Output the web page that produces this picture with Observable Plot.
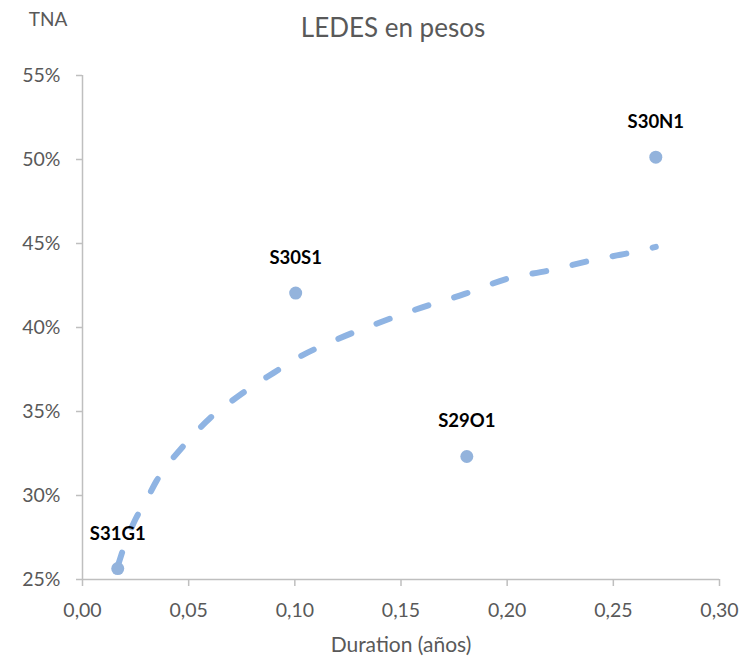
<!DOCTYPE html>
<html>
<head>
<meta charset="utf-8">
<script src="https://cdn.jsdelivr.net/npm/d3@7"></script>
<script src="https://cdn.jsdelivr.net/npm/@observablehq/plot@0.6"></script>
<style>
  html, body { margin: 0; padding: 0; background: #fff; }
  #chart svg { display: block; }
</style>
</head>
<body>
<div id="chart"></div>
<script>
// Bonds (LEDES): name, duration (years), TNA (%)
const names     = ["S31G1", "S30S1", "S29O1", "S30N1"];
const durations = [0.0166, 0.1004, 0.181, 0.270];
const tnas      = [25.65, 42.05, 32.32, 50.14];

// Dashed trend line
const trendX = [0.0166, 0.02, 0.025, 0.03, 0.035, 0.04, 0.05, 0.06, 0.07, 0.08, 0.09, 0.10, 0.12, 0.14, 0.16, 0.18, 0.20, 0.22, 0.24, 0.26, 0.27];
const trendY = [25.8, 27.1, 28.6, 29.7, 30.9, 31.8, 33.3, 34.6, 35.6, 36.5, 37.3, 38.1, 39.3, 40.3, 41.2, 42.0, 42.9, 43.4, 44.0, 44.5, 44.8];

// Axis ticks
const xTicks = [0, 0.05, 0.10, 0.15, 0.20, 0.25, 0.30];
const yTicks = [25, 30, 35, 40, 45, 50, 55];

const titleText = "LEDES en pesos";
const yTitle = "TNA";
const xTitle = "Duration (años)";

const points = names.map((n, i) => ({name: n, x: durations[i], y: tnas[i]}));
const trend = trendX.map((x, i) => ({x, y: trendY[i]}));

const axisGray = "#bfbfbf";
const textGray = "#595959";
const font = "Lato, 'Open Sans', sans-serif";

const chart = Plot.plot({
  width: 742,
  height: 659,
  marginLeft: 82,
  marginRight: 23,
  marginTop: 75,
  marginBottom: 80,
  style: {fontFamily: font, background: "#fff"},
  x: {domain: [0, 0.30]},
  y: {domain: [25, 55]},
  marks: [
    Plot.ruleY([25], {x1: 0, x2: 0.30, stroke: axisGray, strokeWidth: 1.5}),
    Plot.ruleX([0], {y1: 25, y2: 55, stroke: axisGray, strokeWidth: 1.5}),
    Plot.axisX({
      ticks: xTicks,
      tickFormat: d => d.toFixed(2).replace(".", ","),
      tickSize: 7,
      tickPadding: 17,
      stroke: axisGray,
      strokeWidth: 1.5,
      fill: textGray,
      fontSize: 19.5,
      label: null
    }),
    Plot.axisY({
      ticks: yTicks,
      tickFormat: d => d + "%",
      tickSize: 6,
      tickPadding: 16,
      stroke: axisGray,
      strokeWidth: 1.5,
      fill: textGray,
      fontSize: 19.5,
      label: null
    }),
    Plot.line(trend, {
      x: "x", y: "y",
      curve: "monotone-x",
      stroke: "#8fb4e3",
      strokeWidth: 6,
      strokeLinecap: "round",
      strokeDasharray: "14,27"
    }),
    Plot.dot(points, {x: "x", y: "y", r: 6.5, fill: "#93b3dc"}),
    Plot.text(points, {
      x: "x", y: "y", text: "name",
      dy: -35,
      fontSize: 18.5,
      fontWeight: "bold",
      fill: "#000"
    })
  ]
});

const svg = d3.select(chart);
svg.append("text")
  .attr("x", 393).attr("y", 37)
  .attr("text-anchor", "middle")
  .attr("fill", textGray)
  .style("font-family", font)
  .style("font-size", "26px")
  .text(titleText);
svg.append("text")
  .attr("x", 48).attr("y", 26)
  .attr("text-anchor", "middle")
  .attr("fill", textGray)
  .style("font-family", font)
  .style("font-size", "19px")
  .text(yTitle);
svg.append("text")
  .attr("x", 401).attr("y", 652)
  .attr("text-anchor", "middle")
  .attr("fill", textGray)
  .style("font-family", font)
  .style("font-size", "21px")
  .text(xTitle);

document.getElementById("chart").appendChild(chart);
</script>
</body>
</html>
